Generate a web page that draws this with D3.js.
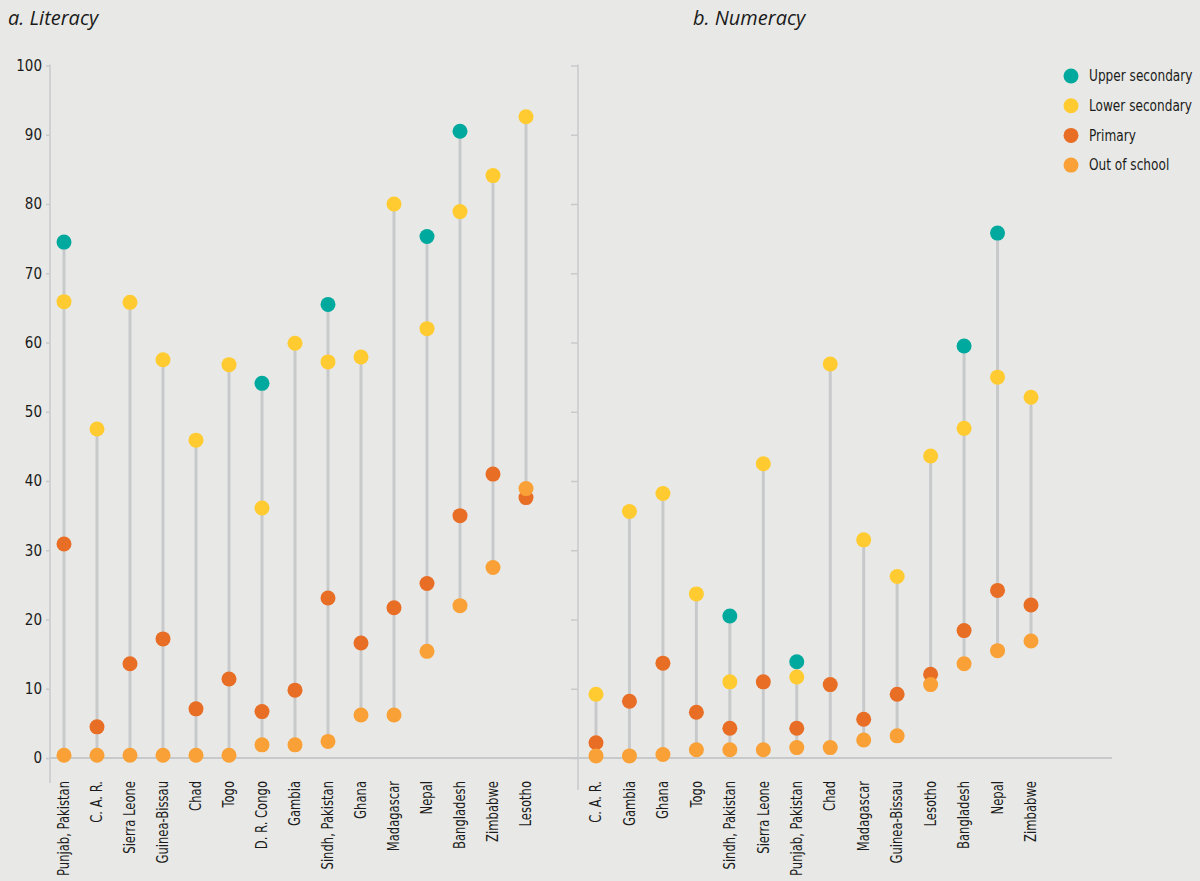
<!DOCTYPE html>
<html>
<head>
<meta charset="utf-8">
<script src="https://cdn.jsdelivr.net/npm/d3@7"></script>
<style>
  body { margin: 0; background: #e8e9e6; }
  svg { display: block; }
  text { font-family: "DejaVu Sans Condensed", "Liberation Sans Narrow", sans-serif; fill: #1a1a1a; }
</style>
</head>
<body>
<div id="chart"></div>
<script>
// Literacy panel
var litCountries = ["Punjab, Pakistan", "C. A. R.", "Sierra Leone", "Guinea-Bissau", "Chad", "Togo",
    "D. R. Congo", "Gambia", "Sindh, Pakistan", "Ghana", "Madagascar", "Nepal", "Bangladesh", "Zimbabwe", "Lesotho"];
var litUpper   = [74.5, null, null, null, null, null, 54.1, null, 65.5, null, null, 75.3, 90.5, null, null];
var litLower   = [65.9, 47.5, 65.8, 57.5, 45.9, 56.8, 36.1, 59.9, 57.2, 57.9, 80.0, 62.0, 78.9, 84.1, 92.6];
var litPrimary = [30.9, 4.5, 13.6, 17.2, 7.1, 11.4, 6.7, 9.8, 23.1, 16.6, 21.7, 25.2, 35.0, 41.0, 37.6];
var litOut     = [0.4, 0.4, 0.4, 0.4, 0.4, 0.4, 1.9, 1.9, 2.4, 6.2, 6.2, 15.4, 22.0, 27.5, 38.9];

// Numeracy panel
var numCountries = ["C. A. R.", "Gambia", "Ghana", "Togo", "Sindh, Pakistan", "Sierra Leone", "Punjab, Pakistan",
    "Chad", "Madagascar", "Guinea-Bissau", "Lesotho", "Bangladesh", "Nepal", "Zimbabwe"];
var numUpper   = [null, null, null, null, 20.5, null, 13.9, null, null, null, null, 59.5, 75.8, null];
var numLower   = [9.2, 35.6, 38.2, 23.7, 11.0, 42.5, 11.7, 56.9, 31.5, 26.2, 43.6, 47.6, 55.0, 52.1];
var numPrimary = [2.2, 8.2, 13.7, 6.6, 4.3, 11.0, 4.3, 10.6, 5.6, 9.2, 12.1, 18.4, 24.2, 22.1];
var numOut     = [0.3, 0.3, 0.5, 1.2, 1.2, 1.2, 1.5, 1.5, 2.6, 3.2, 10.6, 13.6, 15.5, 16.9];

var legendLabels = ["Upper secondary", "Lower secondary", "Primary", "Out of school"];
var colors = ["#00a99d", "#ffcb31", "#e86d25", "#f9a036"];
var yTicks = [0, 10, 20, 30, 40, 50, 60, 70, 80, 90, 100];

var width = 1200, height = 881;
var svg = d3.select("#chart").append("svg")
    .attr("width", width)
    .attr("height", height);

var y = d3.scaleLinear().domain([0, 100]).range([758, 65.5]);
var axisColor = "#c8c9cb";

// baseline at zero
svg.append("line")
    .attr("x1", 50).attr("x2", 1112)
    .attr("y1", y(0)).attr("y2", y(0))
    .attr("stroke", axisColor).attr("stroke-width", 2);

function drawPanel(opts) {
    var g = svg.append("g");
    var x = d3.scalePoint().domain(opts.countries).range(opts.range);

    // y axis
    var yAxis = d3.axisLeft(y).tickValues(yTicks).tickSize(opts.tickLen).tickPadding(4);
    if (!opts.labels) yAxis.tickFormat("");
    var ax = g.append("g")
        .attr("transform", "translate(" + opts.axisX + ",0)")
        .call(yAxis);
    ax.select(".domain").remove();
    ax.selectAll(".tick line").attr("stroke", axisColor).attr("stroke-width", 1.5);
    ax.selectAll(".tick text")
        .style("font-size", "15px")
        .style("font-family", "'DejaVu Sans Condensed', sans-serif")
        .attr("fill", "#1a1a1a");
    g.append("line")
        .attr("x1", opts.axisX).attr("x2", opts.axisX)
        .attr("y1", y(100) - 1).attr("y2", opts.axisBottom)
        .attr("stroke", axisColor).attr("stroke-width", 1.5);

    var rows = opts.countries.map(function (c, i) {
        return { name: c, vals: [opts.upper[i], opts.lower[i], opts.primary[i], opts.out[i]] };
    });

    // stems
    g.selectAll("line.stem")
        .data(rows)
        .enter().append("line")
        .attr("class", "stem")
        .attr("x1", function (d) { return x(d.name); })
        .attr("x2", function (d) { return x(d.name); })
        .attr("y1", function (d) { return y(d3.max(d.vals)); })
        .attr("y2", function (d) { return y(d3.min(d.vals)); })
        .attr("stroke", axisColor)
        .attr("stroke-width", 3);

    // dots: upper first, out of school last (on top)
    [0, 1, 2, 3].forEach(function (k) {
        g.selectAll("circle.s" + k)
            .data(rows.filter(function (d) { return d.vals[k] != null; }))
            .enter().append("circle")
            .attr("class", "s" + k)
            .attr("cx", function (d) { return x(d.name); })
            .attr("cy", function (d) { return y(d.vals[k]); })
            .attr("r", 7.5)
            .attr("fill", colors[k]);
    });

    // category labels (narrowed to mimic the condensed face)
    g.selectAll("text.cat")
        .data(opts.countries)
        .enter().append("text")
        .attr("class", "cat")
        .attr("transform", function (d) { return "translate(" + x(d) + ",781) rotate(-90) scale(0.86,1)"; })
        .attr("text-anchor", "end")
        .attr("dy", "0.35em")
        .style("font-size", "15px")
        .text(function (d) { return d; });

    svg.append("text")
        .attr("x", opts.titleX)
        .attr("y", 25)
        .style("font-family", "'Open Sans', sans-serif")
        .style("font-style", "italic")
        .style("font-size", "20px")
        .text(opts.title);
}

drawPanel({
    countries: litCountries, upper: litUpper, lower: litLower, primary: litPrimary, out: litOut,
    range: [64, 526], axisX: 50, axisBottom: 783, tickLen: 4, labels: true,
    title: "a. Literacy", titleX: 8
});

drawPanel({
    countries: numCountries, upper: numUpper, lower: numLower, primary: numPrimary, out: numOut,
    range: [596, 1031], axisX: 578, axisBottom: 790, tickLen: 7, labels: false,
    title: "b. Numeracy", titleX: 693
});

// legend
var legend = svg.append("g").attr("transform", "translate(1071,76)");
legendLabels.forEach(function (lab, i) {
    legend.append("circle")
        .attr("cx", 0).attr("cy", i * 29.7)
        .attr("r", 7.5)
        .attr("fill", colors[i]);
    legend.append("text")
        .attr("transform", "translate(18," + (i * 29.7) + ") scale(0.9,1)")
        .attr("dy", "0.35em")
        .style("font-size", "15px")
        .text(lab);
});
</script>
</body>
</html>
